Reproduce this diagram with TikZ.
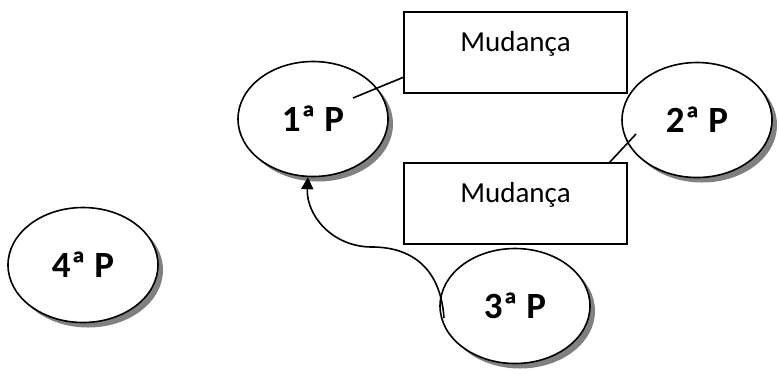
\documentclass[tikz,border=0pt]{standalone}
\usepackage{fontspec}
\setmainfont{Carlito}
\usetikzlibrary{shapes.geometric,shadows,arrows.meta}

\begin{document}
\begin{tikzpicture}[x=0.5pt, y=-0.5pt, line width=0.8pt,
  fase/.style={ellipse, draw, fill=white, minimum width=75pt, minimum height=57.5pt, inner sep=0pt,
    font=\fontsize{18.5}{22}\selectfont\bfseries,
    drop shadow={shadow xshift=2.5pt, shadow yshift=-2.5pt, fill=gray, opacity=1}},
  mudbox/.style={rectangle, draw, inner sep=0pt, text width=111.5pt, align=center,
    text height=19.5pt, text depth=21pt, font=\fontsize{14.5}{17}\selectfont}]
\useasboundingbox (0,0) rectangle (779,376);
\node[fase] (p1) at (313, 119) {1ª P};
\node[fase] (p2) at (697, 120) {2ª P};
\node[fase] (p3) at (515, 306) {3ª P};
\node[fase] (p4) at (83, 265) {4ª P};
\node[mudbox] (mud1) at (515.5, 52.5) {Mudança};
\node[mudbox] (mud2) at (515.5, 203.5) {Mudança};
\coordinate (c1a) at (353, 98);
\coordinate (c1b) at (404, 77);
\coordinate (c2a) at (636, 134);
\coordinate (c2b) at (609, 163);
\coordinate (c3) at (444, 318);
\draw (c1a) -- (c1b);
\draw (c2a) -- (c2b);
\draw[-{Triangle[length=6pt,width=6pt]}] (c3) .. controls (440, 262) and (405, 247) .. (372, 247)
  .. controls (332, 247) and (306, 215) .. (p1.265);
\end{tikzpicture}
\end{document}
